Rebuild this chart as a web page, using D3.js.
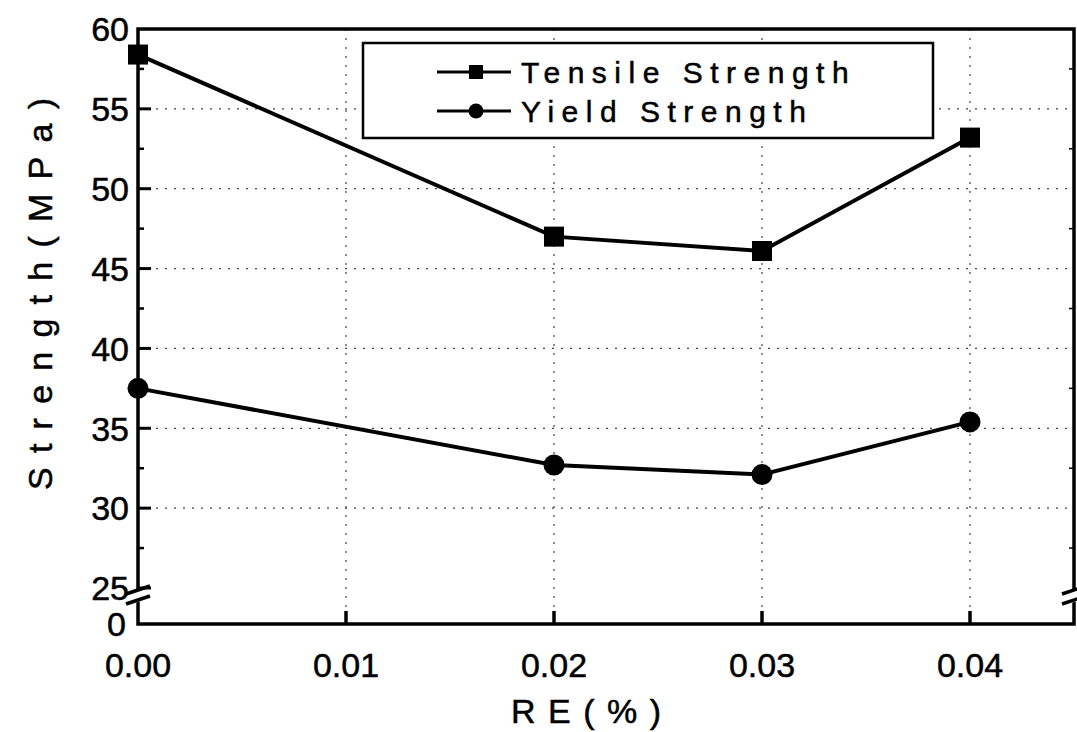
<!DOCTYPE html>
<html>
<head>
<meta charset="utf-8">
<title>Strength vs RE</title>
<style>
html,body{margin:0;padding:0;background:#fff;}
svg{display:block;font-family:"Liberation Sans",Arial,Helvetica,sans-serif;}
svg text{fill:#000;stroke:#000;stroke-width:0.5;}
.grid{stroke:#444;stroke-width:1.2;stroke-dasharray:2,7;}
.frame{stroke:#000;stroke-width:3.5;fill:none;}
</style>
</head>
<body>
<div id="chart"></div>
<script src="https://cdn.jsdelivr.net/npm/d3@7"></script>
<script>
// ---- data ----
const re = [0.00, 0.02, 0.03, 0.04];
const tensile = [58.4, 47.0, 46.1, 53.2];
const yieldS = [37.5, 32.7, 32.1, 35.4];
const seriesNames = ["Tensile Strength", "Yield Strength"];
const xTicks = [0.00, 0.01, 0.02, 0.03, 0.04];
const yTicks = [25, 30, 35, 40, 45, 50, 55, 60];
const yMinor = [27.5, 32.5, 37.5, 42.5, 47.5, 52.5, 57.5];

(function () {
const W = 1077, H = 732;
const mL = 138, mR = 1074, mT = 29, mB = 624;

const svg = d3.select('#chart').append('svg').attr('width', W).attr('height', H);

const x = d3.scaleLinear().domain([0, 0.045]).range([mL, mR]);
// broken axis: 0 .. 25 compressed below the break
const y = d3.scaleLinear().domain([0, 25, 60]).range([mB, 588, mT]);

// grid
svg.append('g').selectAll('line').data(yTicks.filter(v => v > 25 && v < 60)).join('line')
  .attr('class', 'grid').attr('x1', mL).attr('x2', mR)
  .attr('y1', d => y(d)).attr('y2', d => y(d));
svg.append('g').selectAll('line').data(xTicks.filter(v => v > 0)).join('line')
  .attr('class', 'grid').attr('y1', mT).attr('y2', mB)
  .attr('x1', d => x(d)).attr('x2', d => x(d));

// frame with breaks on left and right
const brkTop = 590, brkBot = 600;
svg.append('path').attr('class', 'frame')
  .attr('d', `M${mL},${brkTop}V${mT}H${mR}V${brkTop}`);
svg.append('path').attr('class', 'frame')
  .attr('d', `M${mL},${brkBot}V${mB}H${mR}V${brkBot}`);
// break slashes
[mL, mR].forEach(cx => {
  svg.append('path').attr('fill', '#fff').attr('stroke', 'none')
    .attr('d', `M${cx-12},${brkTop+4}L${cx+12},${brkTop-4}L${cx+12},${brkBot-2}L${cx-12},${brkBot+6}Z`);
  [brkTop, brkBot].forEach(by => {
    svg.append('line').attr('stroke', '#000').attr('stroke-width', 3.5)
      .attr('x1', cx - 12).attr('y1', by + 4).attr('x2', cx + 12).attr('y2', by - 4);
  });
});

// y ticks (inward)
svg.append('g').selectAll('line').data(yTicks.filter(v => v < 60)).join('line')
  .attr('stroke', '#000').attr('stroke-width', 3)
  .attr('x1', mL).attr('x2', mL + 13).attr('y1', d => y(d)).attr('y2', d => y(d));
svg.append('g').selectAll('line').data(yMinor).join('line')
  .attr('stroke', '#000').attr('stroke-width', 2.5)
  .attr('x1', mL).attr('x2', mL + 6).attr('y1', d => y(d)).attr('y2', d => y(d));
svg.append('g').selectAll('line').data(yMinor).join('line')
  .attr('stroke', '#000').attr('stroke-width', 1.5)
  .attr('x1', mR).attr('x2', mR - 5).attr('y1', d => y(d)).attr('y2', d => y(d));

// x ticks (inward)
svg.append('g').selectAll('line').data(xTicks.filter(v => v > 0)).join('line')
  .attr('stroke', '#000').attr('stroke-width', 3.5)
  .attr('x1', d => x(d)).attr('x2', d => x(d)).attr('y1', mB).attr('y2', mB - 13);

// tick labels
svg.append('g').selectAll('text').data(yTicks).join('text')
  .attr('x', 129).attr('y', d => y(d)).attr('dy', '0.36em')
  .attr('text-anchor', 'end').attr('font-size', 34).text(d => d);
svg.append('text').attr('x', 126).attr('y', y(0)).attr('dy', '0.36em')
  .attr('text-anchor', 'end').attr('font-size', 34).text('0');
svg.append('g').selectAll('text').data(xTicks).join('text')
  .attr('x', d => x(d)).attr('y', 677)
  .attr('text-anchor', 'middle').attr('font-size', 34).text(d => d.toFixed(2));

// axis titles
svg.append('text').attr('x', 511).attr('y', 723).attr('font-size', 34)
  .attr('textLength', 150).attr('lengthAdjust', 'spacing').text('RE(%)');
svg.append('text').attr('transform', 'translate(52,490) rotate(-90)')
  .attr('font-size', 34).attr('textLength', 392).attr('lengthAdjust', 'spacing')
  .text('Strength(MPa)');

// series
const line = d3.line().x((d, i) => x(re[i])).y(d => y(d));
[tensile, yieldS].forEach((vals, k) => {
  svg.append('path').attr('d', line(vals)).attr('fill', 'none')
    .attr('stroke', '#000').attr('stroke-width', 4);
  const g = svg.append('g');
  if (k === 0) {
    g.selectAll('rect').data(vals).join('rect')
      .attr('x', (d, i) => x(re[i]) - 10).attr('y', d => y(d) - 10)
      .attr('width', 20).attr('height', 20).attr('fill', '#000');
  } else {
    g.selectAll('circle').data(vals).join('circle')
      .attr('cx', (d, i) => x(re[i])).attr('cy', d => y(d)).attr('r', 10.5).attr('fill', '#000');
  }
});

// legend
const lg = svg.append('g');
lg.append('rect').attr('x', 363).attr('y', 43).attr('width', 570).attr('height', 95)
  .attr('fill', '#fff').attr('stroke', '#000').attr('stroke-width', 2.5);
seriesNames.forEach((name, k) => {
  const ly = 72 + k * 39;
  lg.append('line').attr('x1', 437).attr('x2', 511).attr('y1', ly).attr('y2', ly)
    .attr('stroke', '#000').attr('stroke-width', 3);
  if (k === 0) lg.append('rect').attr('x', 469).attr('y', ly - 7).attr('width', 14).attr('height', 14);
  else lg.append('circle').attr('cx', 476).attr('cy', ly).attr('r', 7.5);
  lg.append('text').attr('x', 521).attr('y', ly).attr('dy', '0.36em')
    .attr('font-size', 30).attr('letter-spacing', 7.5).text(name);
});
})();
</script>
</body>
</html>
